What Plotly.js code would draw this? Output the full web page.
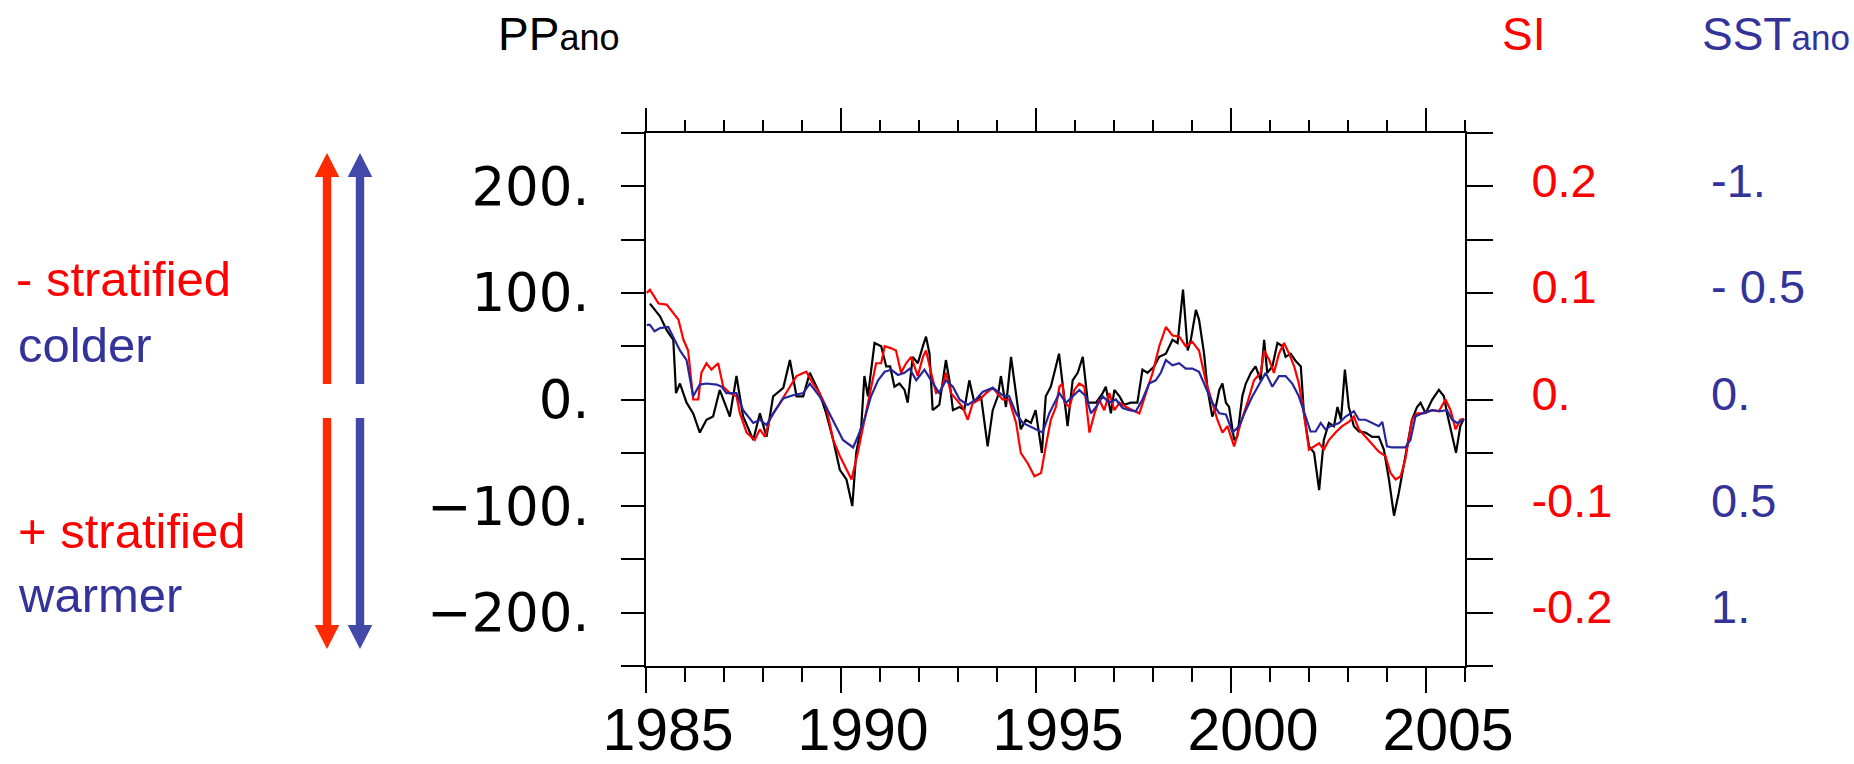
<!DOCTYPE html>
<html>
<head>
<meta charset="utf-8">
<script src="https://cdn.plot.ly/plotly-3.0.1.min.js"></script>
<style>html,body{margin:0;padding:0;background:#fff;}#chart{width:1854px;height:764px;}</style>
</head>
<body>
<div id="chart"></div>
<script>
// ---------------- DATA ----------------
// Primary production anomaly (PP_ano), black
const ppYears = [1985.10,1985.36,1985.53,1985.70,1985.77,1985.87,1986.04,1986.21,1986.38,1986.55,1986.72,1986.89,1987.15,1987.32,1987.49,1987.75,1987.92,1988.09,1988.26,1988.52,1988.69,1988.86,1989.03,1989.20,1989.45,1989.62,1989.80,1989.97,1990.14,1990.29,1990.39,1990.52,1990.60,1990.69,1990.86,1991.03,1991.16,1991.26,1991.37,1991.50,1991.63,1991.71,1991.84,1991.97,1992.10,1992.18,1992.27,1992.35,1992.52,1992.69,1992.78,1992.87,1993.04,1993.16,1993.29,1993.42,1993.59,1993.76,1993.89,1994.02,1994.10,1994.23,1994.36,1994.49,1994.61,1994.74,1994.87,1994.99,1995.15,1995.25,1995.38,1995.51,1995.59,1995.73,1995.81,1995.94,1996.07,1996.20,1996.33,1996.54,1996.71,1996.79,1996.92,1997.01,1997.14,1997.26,1997.43,1997.60,1997.73,1997.86,1998.03,1998.16,1998.33,1998.50,1998.63,1998.77,1998.89,1998.97,1999.10,1999.18,1999.31,1999.40,1999.52,1999.61,1999.70,1999.78,1999.87,1999.95,2000.08,2000.16,2000.29,2000.38,2000.51,2000.63,2000.76,2000.85,2000.93,2001.06,2001.19,2001.32,2001.40,2001.53,2001.66,2001.79,2001.87,2002.00,2002.13,2002.26,2002.38,2002.51,2002.64,2002.73,2002.82,2002.92,2003.02,2003.15,2003.28,2003.45,2003.62,2003.79,2003.92,2004.05,2004.18,2004.30,2004.47,2004.64,2004.77,2004.86,2004.99,2005.16,2005.33,2005.46,2005.54,2005.67,2005.77,2005.88,2005.97];
const ppValues = [90,78,65,56,6,15,-3,-13,-31,-19,-16,9,-16,22,-16,-38,-13,-35,3,11,37,3,3,25,6,-13,-38,-66,-75,-100,-50,-25,22,3,53,50,31,31,12,15,9,-3,40,34,50,59,43,-10,-5,37,18,-10,-7,-10,18,-3,3,-44,-10,3,22,-7,40,6,-28,-19,-22,-10,-50,3,12,31,43,0,-25,18,25,40,-3,-3,6,12,-13,9,3,-5,-3,-3,28,25,31,40,43,56,53,103,46,56,84,75,43,9,-16,-7,9,15,-3,-7,-38,-35,3,15,25,31,18,56,25,31,53,50,40,43,36,31,-13,-44,-50,-85,-38,-22,-25,-7,-19,28,-7,-25,-30,-31,-35,-35,-47,-75,-109,-88,-53,-19,-7,-3,-13,0,9,3,-13,-35,-50,-25,-18];

// Stratification index (SI), red
const siYears = [1985.02,1985.10,1985.22,1985.32,1985.53,1985.70,1985.83,1985.96,1986.08,1986.21,1986.34,1986.42,1986.55,1986.68,1986.85,1986.98,1987.15,1987.32,1987.41,1987.58,1987.79,1987.92,1988.05,1988.17,1988.43,1988.69,1988.86,1989.11,1989.28,1989.45,1989.62,1989.80,1989.97,1990.14,1990.27,1990.43,1990.60,1990.77,1990.90,1991.03,1991.12,1991.29,1991.41,1991.54,1991.67,1991.80,1991.97,1992.10,1992.18,1992.31,1992.44,1992.57,1992.69,1992.82,1992.95,1993.12,1993.25,1993.38,1993.55,1993.72,1993.89,1994.14,1994.31,1994.49,1994.61,1994.79,1994.96,1995.13,1995.25,1995.38,1995.51,1995.60,1995.68,1995.73,1995.86,1995.98,1996.11,1996.24,1996.37,1996.50,1996.62,1996.75,1996.88,1997.01,1997.14,1997.31,1997.48,1997.65,1997.82,1997.99,1998.16,1998.33,1998.50,1998.67,1998.84,1999.01,1999.18,1999.35,1999.52,1999.65,1999.78,1999.91,2000.08,2000.25,2000.42,2000.59,2000.76,2000.85,2000.98,2001.10,2001.23,2001.36,2001.49,2001.62,2001.74,2001.87,2002.00,2002.13,2002.26,2002.38,2002.51,2002.68,2002.85,2003.02,2003.15,2003.28,2003.45,2003.62,2003.79,2003.96,2004.09,2004.22,2004.35,2004.47,2004.64,2004.77,2004.94,2005.16,2005.33,2005.50,2005.63,2005.76,2005.88,2005.97];
const siValues = [0.100,0.103,0.096,0.090,0.089,0.081,0.075,0.056,0.046,0.000,0.000,0.025,0.034,0.028,0.034,0.012,0.006,0.003,-0.013,-0.031,-0.038,-0.028,-0.035,-0.019,-0.003,0.012,0.022,0.026,0.015,0.006,-0.007,-0.038,-0.053,-0.066,-0.075,-0.050,-0.019,0.009,0.034,0.034,0.050,0.048,0.046,0.025,0.034,0.040,0.022,0.040,0.046,0.025,0.006,0.009,0.025,0.006,0.000,-0.007,-0.019,-0.003,0.000,0.006,0.011,0.000,0.000,-0.022,-0.050,-0.060,-0.072,-0.069,-0.044,-0.019,-0.007,0.012,0.015,-0.003,-0.007,0.009,0.015,0.012,-0.031,-0.013,0.000,-0.010,0.006,-0.010,-0.003,-0.007,-0.010,-0.013,0.006,0.025,0.050,0.068,0.060,0.059,0.050,0.054,0.046,0.018,-0.003,-0.019,-0.031,-0.025,-0.044,-0.022,-0.003,0.018,0.025,0.046,0.037,0.025,0.043,0.053,0.043,0.031,0.015,-0.013,-0.047,-0.044,-0.041,-0.047,-0.038,-0.031,-0.025,-0.021,-0.016,-0.028,-0.035,-0.041,-0.049,-0.053,-0.069,-0.075,-0.072,-0.056,-0.019,-0.013,-0.013,-0.010,-0.011,0.000,-0.010,-0.028,-0.019,-0.018];

// Sea-surface temperature anomaly (SST_ano, degC), blue, plotted on an inverted axis
const sstYears = [1985.02,1985.10,1985.22,1985.36,1985.57,1985.70,1985.87,1986.04,1986.21,1986.38,1986.55,1986.81,1986.94,1987.06,1987.32,1987.49,1987.75,1987.92,1988.09,1988.26,1988.52,1988.77,1989.03,1989.20,1989.45,1989.62,1989.88,1990.05,1990.31,1990.43,1990.60,1990.77,1990.95,1991.12,1991.29,1991.46,1991.63,1991.76,1991.93,1992.14,1992.31,1992.52,1992.69,1992.87,1993.04,1993.25,1993.46,1993.63,1993.89,1994.14,1994.31,1994.49,1994.66,1994.83,1994.99,1995.17,1995.34,1995.51,1995.60,1995.77,1995.94,1996.11,1996.28,1996.41,1996.54,1996.71,1996.88,1997.05,1997.22,1997.39,1997.56,1997.73,1997.90,1998.07,1998.20,1998.33,1998.50,1998.67,1998.84,1999.01,1999.18,1999.35,1999.52,1999.70,1999.87,2000.04,2000.21,2000.38,2000.55,2000.72,2000.89,2001.06,2001.23,2001.40,2001.57,2001.74,2001.91,2002.04,2002.17,2002.30,2002.42,2002.55,2002.77,2002.94,2003.15,2003.28,2003.45,2003.62,2003.79,2003.88,2004.00,2004.13,2004.30,2004.47,2004.60,2004.73,2004.90,2005.16,2005.37,2005.54,2005.67,2005.80,2005.97];
const sstValues = [-0.35,-0.35,-0.32,-0.335,-0.34,-0.295,-0.23,-0.185,-0.015,-0.07,-0.075,-0.07,-0.06,-0.03,-0.03,0.05,0.11,0.095,0.12,0.065,-0.005,-0.02,-0.03,-0.075,-0.015,0.035,0.125,0.19,0.225,0.175,0.095,-0.015,-0.09,-0.13,-0.14,-0.115,-0.125,-0.145,-0.09,-0.14,-0.09,-0.03,-0.09,-0.06,0.0,0.025,0.0,-0.035,-0.055,-0.02,-0.015,0.065,0.11,0.125,0.14,0.155,0.065,0.0,-0.03,0.015,-0.015,-0.045,-0.015,0.065,0.035,-0.015,0.015,0.0,0.04,0.05,0.055,0.0,-0.075,-0.09,-0.125,-0.185,-0.16,-0.17,-0.145,-0.145,-0.13,-0.06,0.015,0.065,0.07,0.155,0.125,0.05,-0.015,-0.07,-0.125,-0.06,-0.11,-0.11,-0.075,-0.015,0.08,0.15,0.15,0.11,0.14,0.125,0.11,0.08,0.055,0.095,0.095,0.11,0.125,0.105,0.22,0.225,0.225,0.225,0.19,0.08,0.065,0.05,0.055,0.05,0.095,0.11,0.095];

// Tick labels
const yearTicks = [1985,1990,1995,2000,2005];
const yearLabels = ['1985','1990','1995','2000','2005'];
const ppTickVals = [-250,-200,-150,-100,-50,0,50,100,150,200,250];
const ppTickText = ['','\u2212200.','','\u2212100.','','0.','','100.','','200.',''];
const siTickVals = [-0.25,-0.2,-0.15,-0.1,-0.05,0,0.05,0.1,0.15,0.2,0.25];
const siTickText = ['','-0.2','','-0.1','','0.','','0.1','','0.2',''];
const sstTickVals = [-1,-0.5,0,0.5,1];
const sstTickText = ['-1.','- 0.5','0.','0.5','1.'];

// ---------------- STYLE ----------------
const L=646, R=1465, T=133, B=666, W=R-L, H=B-T;
const px = x => (x-L)/W;
const py = y => (B-y)/H;
const RED='#ff0000', BLUE='#333399', LINEBLUE='#26269c';
const ARROWRED='#ff2a00', ARROWBLUE='#4349a8';
const FONT='Liberation Sans, Arial, Helvetica, sans-serif';

const traces = [
  {x:ppYears, y:ppValues, type:'scatter', mode:'lines', line:{color:'#000000', width:2.2}, xaxis:'x', yaxis:'y', hoverinfo:'skip'},
  {x:siYears, y:siValues, type:'scatter', mode:'lines', line:{color:'#ff0000', width:2.2}, xaxis:'x', yaxis:'y2', hoverinfo:'skip'},
  {x:sstYears, y:sstValues, type:'scatter', mode:'lines', line:{color:LINEBLUE, width:2.2}, xaxis:'x', yaxis:'y3', hoverinfo:'skip'}
];

function arrowShapes(xc, color){
  const hw=12.3, sw=4.2;
  const s=[];
  s.push({type:'path', xref:'paper', yref:'paper', line:{width:0}, fillcolor:color,
    path:`M ${px(xc-sw)} ${py(384)} L ${px(xc-sw)} ${py(177)} L ${px(xc-hw)} ${py(177)} L ${px(xc)} ${py(153)} L ${px(xc+hw)} ${py(177)} L ${px(xc+sw)} ${py(177)} L ${px(xc+sw)} ${py(384)} Z`});
  s.push({type:'path', xref:'paper', yref:'paper', line:{width:0}, fillcolor:color,
    path:`M ${px(xc-sw)} ${py(418)} L ${px(xc-sw)} ${py(625)} L ${px(xc-hw)} ${py(625)} L ${px(xc)} ${py(649)} L ${px(xc+hw)} ${py(625)} L ${px(xc+sw)} ${py(625)} L ${px(xc+sw)} ${py(418)} Z`});
  return s;
}
const shapes = [...arrowShapes(327, ARROWRED), ...arrowShapes(360, ARROWBLUE)];

function ann(text, xl, yc, color, size){
  return {text:text, xref:'paper', yref:'paper', x:px(xl), y:py(yc), xanchor:'left', yanchor:'middle',
    showarrow:false, font:{family:FONT, size:size, color:color}};
}
const annotations = [
  ann("PP<span style='font-size:36px'>ano</span>", 496, 34, '#000000', 46),
  ann("SI", 1500, 34, RED, 46),
  ann("SST<span style='font-size:35px'>ano</span>", 1700, 34, BLUE, 46),
  ann("- stratified", 14, 279, RED, 49),
  ann("colder", 16, 345, BLUE, 49),
  ann("+ stratified", 16, 531, RED, 49),
  ann("warmer", 16, 595, BLUE, 49)
];

const layout = {
  width:1854, height:764,
  margin:{l:L, r:1854-R, t:T, b:764-B, pad:0},
  paper_bgcolor:'#ffffff', plot_bgcolor:'#ffffff',
  showlegend:false,
  xaxis:{range:[1985,2006], tickmode:'array', tickvals:yearTicks, ticktext:yearLabels,
    ticks:'outside', ticklen:25, tickwidth:2, tickcolor:'#000', showline:true, linewidth:2, linecolor:'#000',
    showgrid:false, zeroline:false, ticklabelshift:22, ticklabelstandoff:-14,
    minor:{dtick:1, tick0:1985, ticks:'outside', ticklen:14, tickwidth:2, tickcolor:'#000', showgrid:false},
    tickfont:{family:FONT, size:59, color:'#000'}},
  xaxis2:{range:[1985,2006], overlaying:'x', side:'top', anchor:'y', tickmode:'array', tickvals:yearTicks,
    ticks:'outside', ticklen:23, tickwidth:2, tickcolor:'#000', showline:true, linewidth:2, linecolor:'#000',
    showgrid:false, zeroline:false, showticklabels:false,
    minor:{dtick:1, tick0:1985, ticks:'outside', ticklen:11, tickwidth:2, tickcolor:'#000', showgrid:false}},
  yaxis:{range:[-250,250], tickmode:'array', tickvals:ppTickVals, ticktext:ppTickText,
    ticks:'outside', ticklen:23, tickwidth:2, tickcolor:'#000', showline:true, linewidth:2, linecolor:'#000',
    showgrid:false, zeroline:false, ticklabelstandoff:21,
    tickfont:{family:'DejaVu Sans, sans-serif', size:53, color:'#000'}},
  yaxis2:{range:[-0.25,0.25], overlaying:'y', side:'right', anchor:'x', tickmode:'array', tickvals:siTickVals, ticktext:siTickText,
    ticks:'outside', ticklen:26, tickwidth:2, tickcolor:'#000', showline:true, linewidth:2, linecolor:'#000',
    showgrid:false, zeroline:false, ticklabelstandoff:29, ticklabelshift:-6,
    tickfont:{family:FONT, size:47, color:RED}},
  yaxis3:{range:[1.25,-1.25], overlaying:'y', side:'right', anchor:'x', tickmode:'array', tickvals:sstTickVals, ticktext:sstTickText,
    ticks:'', showline:false, showgrid:false, zeroline:false, ticklabelstandoff:245, ticklabelshift:6,
    tickfont:{family:FONT, size:47, color:BLUE}},
  shapes:shapes,
  annotations:annotations
};
traces.push({x:[1985,2006], y:[0,0], xaxis:'x2', yaxis:'y', mode:'lines', line:{width:0}, hoverinfo:'skip', showlegend:false});

Plotly.newPlot('chart', traces, layout, {displayModeBar:false, staticPlot:true});
</script>
</body>
</html>
